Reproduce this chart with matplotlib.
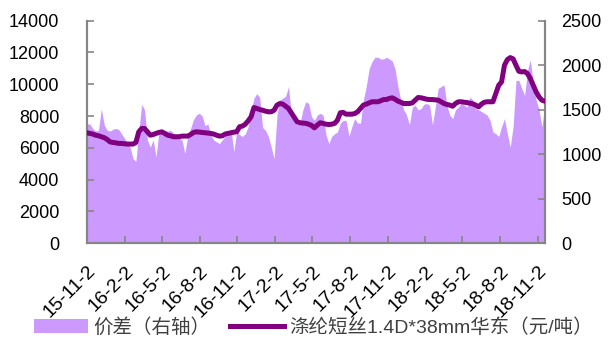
import matplotlib
matplotlib.use("Agg")
import matplotlib.pyplot as plt
from matplotlib.patches import Patch
from matplotlib.lines import Line2D
import pandas as pd

plt.rcParams['font.family'] = ['Liberation Sans', 'Noto Sans CJK SC', 'DejaVu Sans']

start_date = '2015-11-02'
n_weeks = 160

price = [6950, 6910, 6870, 6800, 6760, 6700, 6640, 6530, 6380, 6340,
         6320, 6280, 6280, 6260, 6240, 6240, 6240, 6340, 7010, 7220,
         7220, 7010, 6800, 6840, 6910, 6970, 7010, 6910, 6800, 6760,
         6700, 6700, 6700, 6740, 6740, 6740, 6840, 6970, 7010, 6990,
         6970, 6950, 6930, 6910, 6870, 6800, 6740, 6760, 6870, 6910,
         6950, 6990, 7010, 7330, 7370, 7490, 7700, 7950, 8540, 8480,
         8410, 8370, 8310, 8270, 8270, 8370, 8690, 8790, 8750, 8620,
         8480, 8200, 7910, 7640,
         7580, 7560, 7540, 7490, 7410, 7260, 7430, 7580, 7540, 7490,
         7470, 7490, 7540, 7740, 8210, 8230, 8120, 8120, 8120, 8160,
         8270, 8480, 8690, 8750, 8830, 8900, 8900, 8900, 8960, 9040,
         9040, 9110, 9150, 9060, 8940, 8870, 8790, 8790, 8790, 8830,
         9000, 9170, 9150, 9110, 9060, 9040, 9040, 9020, 9000, 8900,
         8790, 8730, 8690, 8620, 8790, 8900, 8900, 8870, 8850, 8810,
         8770, 8690, 8580, 8750, 8870, 8900, 8900, 8900, 9420, 9940,
         10150, 11200, 11550, 11680, 11600, 11200, 10820, 10780, 10800, 10670,
         10360, 9940, 9520, 9210, 9000, 8940]

spread = [1340, 1340, 1290, 1260, 1270, 1510, 1330, 1270, 1260, 1280,
          1290, 1280, 1230, 1180, 1130, 1080, 950, 920, 1250, 1560,
          1500, 1160, 1080, 1160, 970, 1250, 1270, 1270, 1260, 1270,
          1240, 1200, 1180, 1160, 1010, 1200, 1290, 1390, 1440, 1460,
          1430, 1320, 1340, 1220, 1160, 1140, 1120, 1160, 1200, 1230,
          1280, 1030, 1250, 1220, 1200, 1230, 1310, 1480, 1630, 1680,
          1640, 1300, 1270, 1200, 1080, 950, 1440, 1610, 1630, 1650,
          1760, 1440, 1380, 1330,
          1350, 1500, 1590, 1570, 1420, 1380, 1440, 1460, 1440, 1220,
          1120, 1200, 1230, 1250, 1350, 1380, 1380, 1200, 1310, 1400,
          1350, 1350, 1610, 1760, 1960, 2040, 2090, 2090, 2070, 2070,
          2090, 2070, 2050, 1960, 1760, 1610, 1500, 1440, 1330, 1530,
          1550, 1500, 1510, 1560, 1570, 1550, 1330, 1530, 1740, 1760,
          1780, 1550, 1440, 1400, 1500, 1530, 1570, 1550, 1530, 1640,
          1610, 1510, 1500, 1480, 1460, 1440, 1380, 1250, 1230, 1200,
          1310, 1400, 1230, 1080, 1310, 1830, 1830, 1740, 1660, 1940,
          2060, 1790, 1610, 1500, 1310, 1530]

xtick_labels = ['15-11-2', '16-2-2', '16-5-2', '16-8-2', '16-11-2', '17-2-2',
                '17-5-2', '17-8-2', '17-11-2', '18-2-2', '18-5-2', '18-8-2',
                '18-11-2']
left_ticks = [0, 2000, 4000, 6000, 8000, 10000, 12000, 14000]
right_ticks = [0, 500, 1000, 1500, 2000, 2500]

label_area = '价差（右轴）'
label_line = '涤纶短丝1.4D*38mm华东（元/吨）'

dates = pd.date_range(start_date, periods=n_weeks, freq='7D')
tick_dates = [pd.Timestamp(2000 + int(s.split('-')[0]), int(s.split('-')[1]), int(s.split('-')[2]))
              for s in xtick_labels]

area_color = '#CC99FF'
line_color = '#800080'
spine_color = '#868686'

fig = plt.figure(figsize=(6.08, 3.51), dpi=100)
ax = fig.add_axes([0.143, 0.307, 0.753, 0.634])
ax2 = ax.twinx()

ax2.fill_between(dates, spread, 0, color=area_color, linewidth=0, zorder=1)
ax.plot(dates, price, color=line_color, linewidth=3.6, solid_capstyle='round', zorder=3)

ax.set_zorder(ax2.get_zorder() + 1)
ax.patch.set_visible(False)

ax.set_xlim(dates[0], dates[-1])
ax.set_ylim(0, 14000)
ax2.set_ylim(0, 2500)
ax.set_yticks(left_ticks)
ax.set_yticklabels([str(v) for v in left_ticks])
ax2.set_yticks(right_ticks)
ax2.set_yticklabels([str(v) for v in right_ticks])
ax.set_xticks(tick_dates)
ax.set_xticklabels(xtick_labels, rotation=45, ha='right', va='top', rotation_mode='anchor')

for a in (ax, ax2):
    a.spines['top'].set_visible(False)
    for s in ('left', 'right', 'bottom'):
        a.spines[s].set_color(spine_color)
        a.spines[s].set_linewidth(1.5)

ax.tick_params(axis='y', direction='in', length=5, width=1.2, color=spine_color,
               labelsize=13, pad=20)
ax.tick_params(axis='x', direction='in', length=5, width=1.2, color=spine_color,
               labelsize=14, pad=14)
ax2.tick_params(axis='y', direction='in', length=5, width=1.2, color=spine_color,
                labelsize=13, pad=12)

handles = [Patch(facecolor=area_color, edgecolor='none'),
           Line2D([0], [0], color=line_color, linewidth=3.6)]
fig.legend(handles, [label_area, label_line], loc='center', bbox_to_anchor=(0.515, 0.068),
           ncol=2, frameon=False, fontsize=14, handlelength=2.8, handleheight=0.7,
           handletextpad=0.25, columnspacing=1.0, labelcolor='#404040')

fig.savefig('out.png', dpi=100)
